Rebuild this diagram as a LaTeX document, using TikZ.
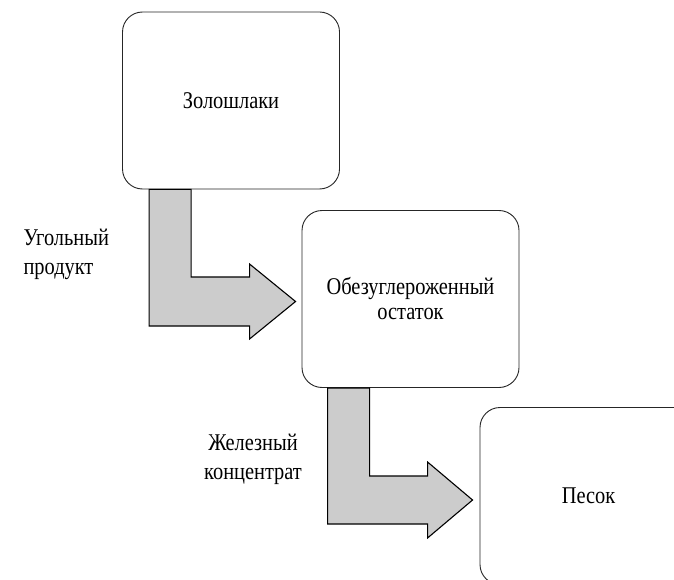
\documentclass[tikz,border=0pt]{standalone}
\usepackage{fontspec}
\setmainfont{Liberation Serif}[FakeStretch=0.85]
\usetikzlibrary{calc,positioning}

\begin{document}
\begin{tikzpicture}[x=1pt, y=-1pt,
    box/.style = {draw=black!85, fill=white, line width=0.9pt, rounded corners=20pt, minimum width=217pt, minimum height=177pt, align=center, font=\fontsize{24}{25}\selectfont},
    lbl/.style = {font=\fontsize{24}{29}\selectfont},
    flow/.style = {draw=black, fill=black!20, line width=1.1pt, line join=miter}]
    \clip (0,0) rectangle (674,580);
    \node[box] (zola) at (231,100.5) {Золошлаки};
    \node[box] (ostatok) at (410.5,299) {Обезуглероженный\\остаток};
    \node[box] (pesok) at (588.5,496) {Песок};
    \coordinate (s1) at ($(zola.south west)+(27,0)$);
    \coordinate (s2) at ($(ostatok.south west)+(26,0)$);
    \draw[flow] (s1) |- ($(ostatok.west)+(-52,27)$) -- +(0,13) -- ($(ostatok.west)+(-6,2.5)$) -- ($(ostatok.west)+(-52,-35)$) -- +(0,13) -| ($(s1)+(42,0)$) -- cycle;
    \draw[flow] (s2) |- ($(pesok.west)+(-52,28)$) -- +(0,14) -- ($(pesok.west)+(-7,4)$) -- ($(pesok.west)+(-52,-34)$) -- +(0,14) -| ($(s2)+(42,0)$) -- cycle;
    \node[lbl, anchor=west, align=left] (ugol) at (20,254) {Угольный\\продукт};
    \node[lbl, align=center] (zhelezo) at (253,459) {Железный\\концентрат};
\end{tikzpicture}
\end{document}
